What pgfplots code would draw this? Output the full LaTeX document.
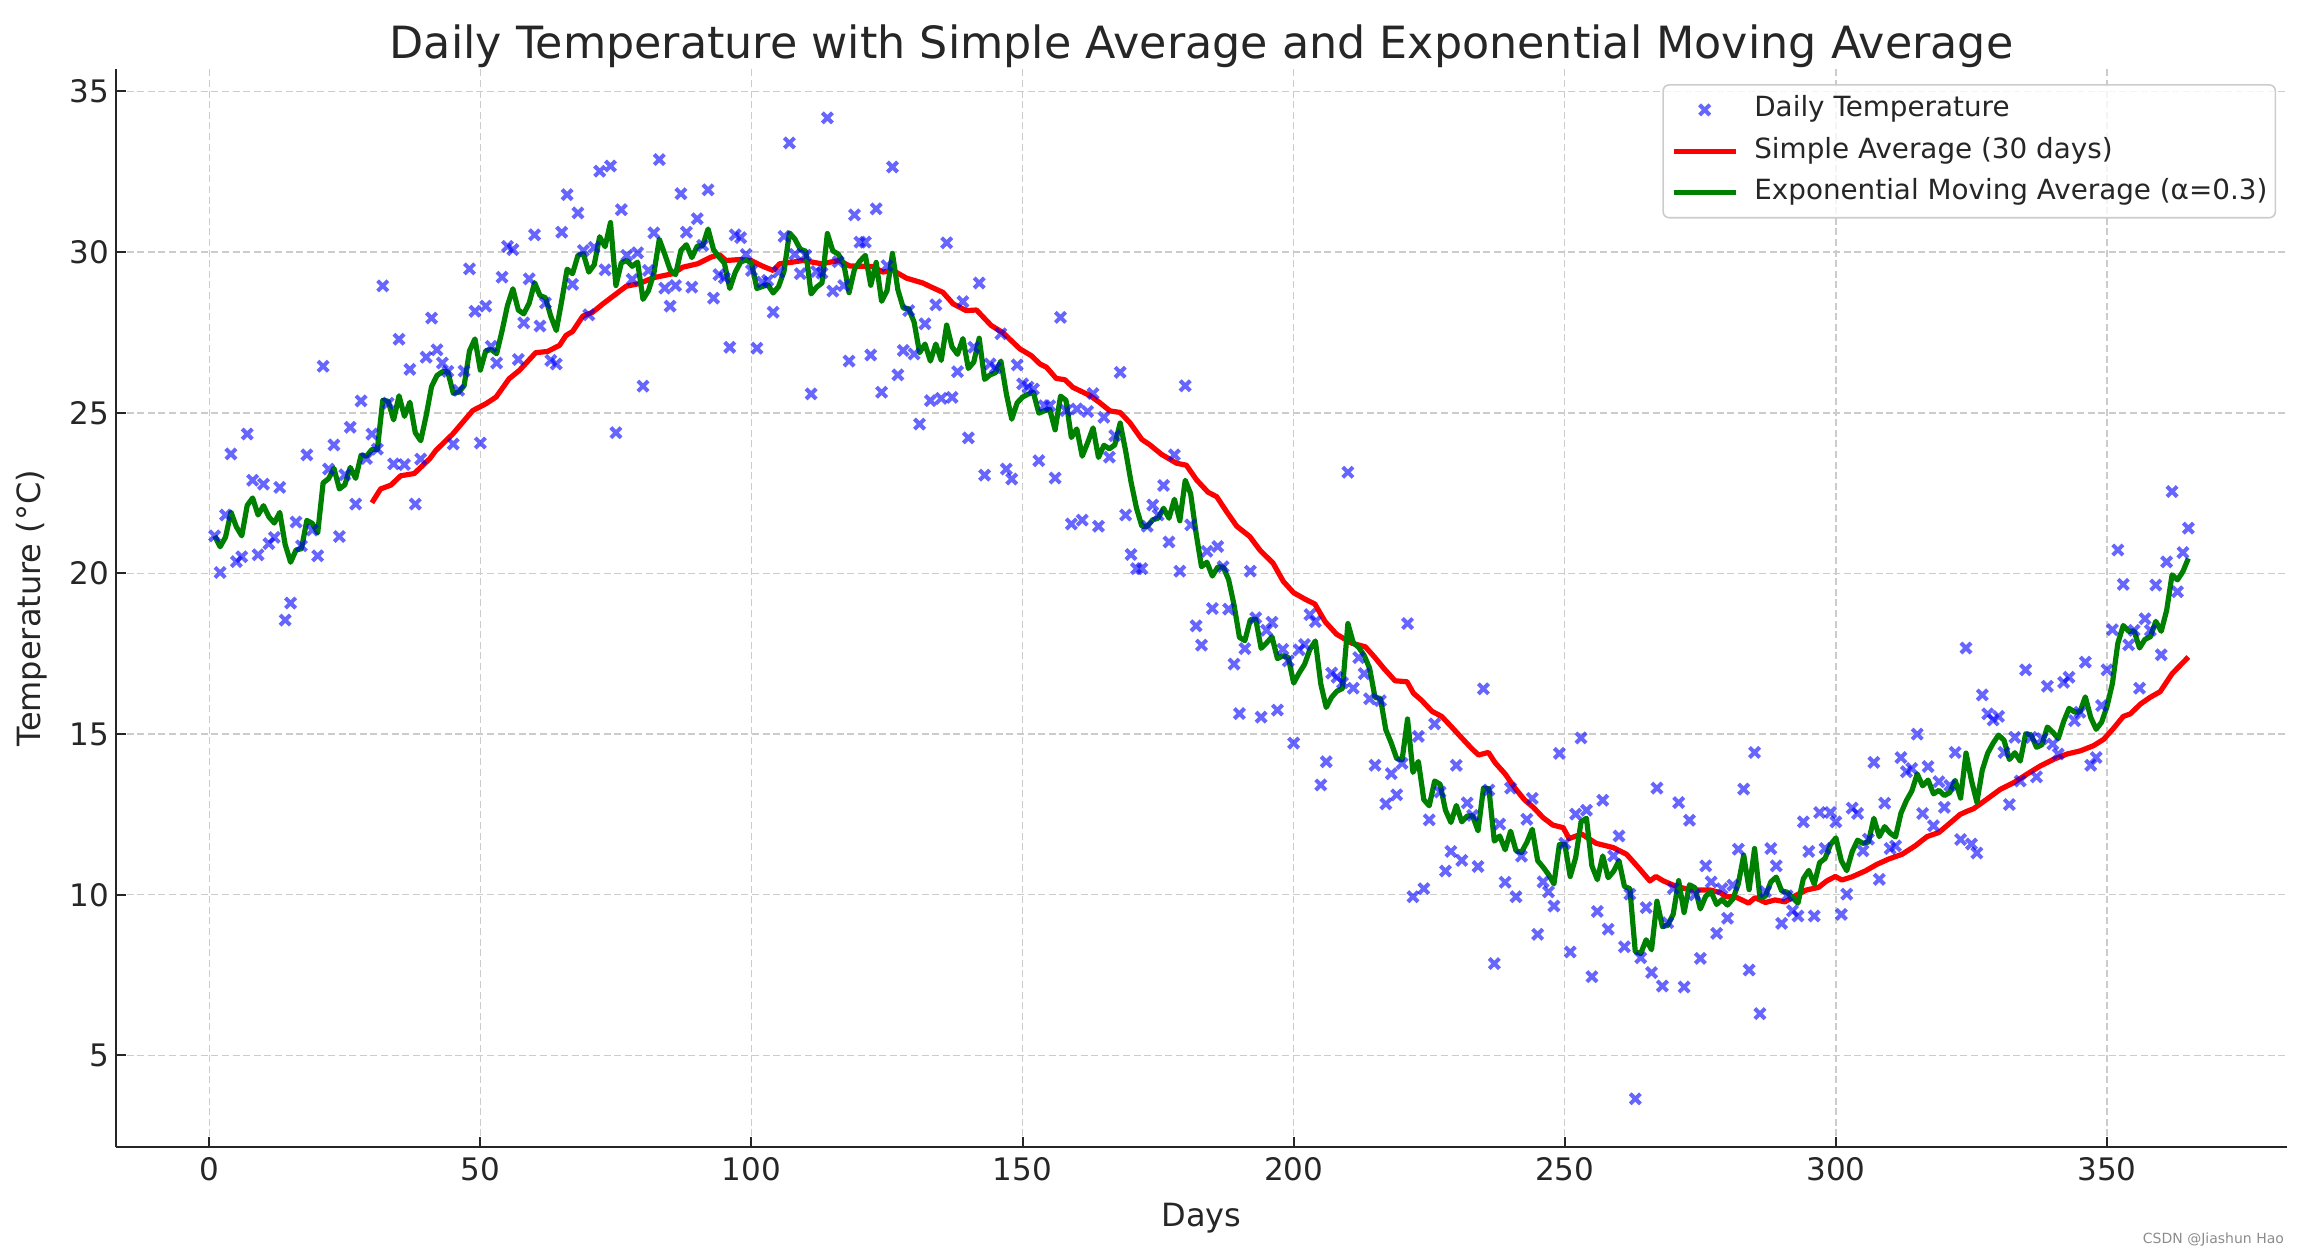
\documentclass[border=0pt]{standalone}
\usepackage{fontspec}
\setmainfont{DejaVu Sans}
\usepackage{pgfplots}
\pgfplotsset{compat=1.18}
\definecolor{ptblue}{RGB}{0,0,255}
\definecolor{emagreen}{RGB}{0,128,0}
\definecolor{gridgray}{RGB}{204,204,204}
\definecolor{txt}{RGB}{38,38,38}
\pgfplotsset{
  linelegend/.style={legend image code/.code={\draw[##1] (0pt,0pt) -- (31pt,0pt);}},
  marklegend/.style={legend image code/.code={\draw[##1] plot coordinates {(15.5pt,0pt)};}},
}
\begin{document}
\begin{tikzpicture}
\path[use as bounding box] (-58pt,-54pt) rectangle (1095pt,573.5pt);
\begin{axis}[
  at={(0,0)}, anchor=south west,
  scale only axis, width=1085.5pt, height=539pt,
  xmin=-17.2, xmax=383.2, ymin=2.15, ymax=35.7,
  axis x line*=bottom, axis y line*=left,
  axis line style={line width=1pt, color=black!85, -},
  xtick={0,50,...,350}, ytick={5,10,...,35},
  tick align=inside, major tick length=5pt,
  tick style={line width=1pt, color=black!85},
  grid=major, grid style={gridgray, line width=0.7pt, dash pattern=on 3.5pt off 1.8pt},
  tick label style={font=\fontsize{15.5}{18}\selectfont, color=txt},
  /pgf/number format/assume math mode=true,
  xticklabel style={yshift=-1.6pt},
  xlabel={Days}, ylabel={Temperature (°C)},
  every axis x label/.style={at={(axis description cs:0.5,-0.0659)}, anchor=center,
    font=\fontsize{16}{19}\selectfont, color=txt},
  every axis y label/.style={at={(axis description cs:-0.0387,0.5)}, rotate=90, anchor=center,
    font=\fontsize{16}{19}\selectfont, color=txt},
  title={Daily Temperature with Simple Average and Exponential Moving Average},
  every axis title/.style={font=\fontsize{22.2}{26}\selectfont, color=txt, at={(axis description cs:0.5,1.0208)}, anchor=center},
  legend cell align=left,
  legend style={
    at={(0.995,0.986)}, anchor=north east,
    draw=black!20, line width=0.8pt, rounded corners=3pt,
    fill=white, fill opacity=0.8, text opacity=1,
    font=\fontsize{13.9}{16}\selectfont, text=txt,
    inner xsep=4pt, inner ysep=6pt,
    row sep=7.7pt,
    nodes={inner sep=0pt, text height=10pt, text depth=3pt},
    /tikz/every odd column/.append style={column sep=8pt},
  },
]
\addplot[ptblue, only marks, mark=x, mark size=3.6pt,
  mark options={solid, line width=2pt, draw opacity=0.6}, marklegend]
coordinates {
(1,21.17) (2,20.03) (3,21.82) (4,23.72) (5,20.37) (6,20.52) (7,24.34) (8,22.90) (9,20.58) (10,22.78)
(11,20.93) (12,21.12) (13,22.68) (14,18.55) (15,19.08) (16,21.60) (17,20.86) (18,23.69) (19,21.35) (20,20.55)
(21,26.45) (22,23.25) (23,24.00) (24,21.15) (25,23.07) (26,24.55) (27,22.16) (28,25.37) (29,23.58) (30,24.34)
(31,23.87) (32,28.95) (33,25.30) (34,23.41) (35,27.29) (36,23.39) (37,26.35) (38,22.16) (39,23.56) (40,26.73)
(41,27.95) (42,26.96) (43,26.55) (44,26.29) (45,24.03) (46,25.70) (47,26.30) (48,29.48) (49,28.16) (50,24.06)
(51,28.32) (52,27.07) (53,26.55) (54,29.22) (55,30.18) (56,30.08) (57,26.66) (58,27.80) (59,29.17) (60,30.54)
(61,27.70) (62,28.42) (63,26.63) (64,26.52) (65,30.62) (66,31.79) (67,29.00) (68,31.22) (69,30.05) (70,28.05)
(71,30.15) (72,32.52) (73,29.45) (74,32.68) (75,24.38) (76,31.32) (77,29.90) (78,29.15) (79,29.98) (80,25.83)
(81,29.43) (82,30.60) (83,32.88) (84,28.88) (85,28.32) (86,28.96) (87,31.82) (88,30.62) (89,28.91) (90,31.04)
(91,30.21) (92,31.94) (93,28.57) (94,29.30) (95,29.20) (96,27.04) (97,30.54) (98,30.45) (99,29.93) (100,29.43)
(101,27.01) (102,29.07) (103,29.12) (104,28.13) (105,29.38) (106,30.49) (107,33.40) (108,29.93) (109,29.33) (110,29.90)
(111,25.59) (112,29.40) (113,29.35) (114,34.18) (115,28.79) (116,29.70) (117,28.96) (118,26.61) (119,31.16) (120,30.31)
(121,30.31) (122,26.80) (123,31.35) (124,25.64) (125,29.58) (126,32.65) (127,26.18) (128,26.94) (129,28.18) (130,26.83)
(131,24.65) (132,27.77) (133,25.38) (134,28.36) (135,25.45) (136,30.29) (137,25.48) (138,26.28) (139,28.46) (140,24.22)
(141,27.04) (142,29.04) (143,23.06) (144,26.52) (145,26.40) (146,27.46) (147,23.25) (148,22.94) (149,26.49) (150,25.90)
(151,25.80) (152,25.74) (153,23.51) (154,25.22) (155,25.22) (156,22.97) (157,27.97) (158,25.07) (159,21.54) (160,25.12)
(161,21.66) (162,25.04) (163,25.60) (164,21.47) (165,24.86) (166,23.62) (167,24.29) (168,26.26) (169,21.82) (170,20.59)
(171,20.15) (172,20.15) (173,21.47) (174,22.13) (175,21.82) (176,22.74) (177,20.98) (178,23.69) (179,20.07) (180,25.84)
(181,21.51) (182,18.37) (183,17.77) (184,20.69) (185,18.91) (186,20.84) (187,20.21) (188,18.89) (189,17.18) (190,15.64)
(191,17.66) (192,20.07) (193,18.62) (194,15.53) (195,18.23) (196,18.48) (197,15.75) (198,17.64) (199,17.28) (200,14.72)
(201,17.62) (202,17.79) (203,18.72) (204,18.50) (205,13.42) (206,14.14) (207,16.90) (208,16.77) (209,16.60) (210,23.15)
(211,16.43) (212,17.38) (213,16.88) (214,16.10) (215,14.03) (216,16.04) (217,12.83) (218,13.77) (219,13.11) (220,14.09)
(221,18.44) (222,9.94) (223,14.93) (224,10.19) (225,12.33) (226,15.32) (227,13.20) (228,10.74) (229,11.35) (230,14.03)
(231,11.07) (232,12.86) (233,12.47) (234,10.88) (235,16.41) (236,13.26) (237,7.86) (238,12.20) (239,10.39) (240,13.32)
(241,9.94) (242,11.20) (243,12.35) (244,13.00) (245,8.77) (246,10.40) (247,10.09) (248,9.65) (249,14.40) (250,11.60)
(251,8.22) (252,12.51) (253,14.88) (254,12.63) (255,7.45) (256,9.48) (257,12.94) (258,8.93) (259,11.21) (260,11.83)
(261,8.38) (262,10.02) (263,3.65) (264,8.04) (265,9.60) (266,7.58) (267,13.32) (268,7.16) (269,9.13) (270,10.20)
(271,12.87) (272,7.13) (273,12.32) (274,10.00) (275,8.02) (276,10.90) (277,10.40) (278,8.80) (279,10.19) (280,9.27)
(281,10.30) (282,11.42) (283,13.29) (284,7.66) (285,14.43) (286,6.30) (287,10.10) (288,11.44) (289,10.90) (290,9.11)
(291,9.97) (292,9.50) (293,9.34) (294,12.27) (295,11.35) (296,9.34) (297,12.56) (298,11.44) (299,12.56) (300,12.27)
(301,9.39) (302,10.02) (303,12.70) (304,12.53) (305,11.37) (306,11.73) (307,14.12) (308,10.48) (309,12.85) (310,11.44)
(311,11.52) (312,14.27) (313,13.83) (314,13.93) (315,15.00) (316,12.53) (317,13.99) (318,12.15) (319,13.52) (320,12.72)
(321,13.40) (322,14.43) (323,11.72) (324,17.68) (325,11.58) (326,11.30) (327,16.22) (328,15.63) (329,15.44) (330,15.55)
(331,14.43) (332,12.81) (333,14.90) (334,13.54) (335,17.00) (336,14.90) (337,13.67) (338,14.86) (339,16.49) (340,14.69)
(341,14.38) (342,16.61) (343,16.77) (344,15.42) (345,15.68) (346,17.24) (347,14.03) (348,14.27) (349,15.89) (350,17.00)
(351,18.25) (352,20.73) (353,19.66) (354,17.78) (355,18.23) (356,16.43) (357,18.59) (358,18.23) (359,19.64) (360,17.47)
(361,20.36) (362,22.55) (363,19.43) (364,20.65) (365,21.41)
};
\addlegendentry{Daily Temperature}
\addplot[red, line width=2.6pt, no marks, line join=round, linelegend]
coordinates {
(30,22.2) (31.6,22.63) (33.5,22.75) (35.3,23.04) (37.8,23.11) (40.6,23.56) (41.8,23.83) (44.9,24.34) (48.6,25.07) (51,25.28)
(52.9,25.49) (55.3,26.06) (57.2,26.32) (60.2,26.87) (62.4,26.91) (64.6,27.1) (65.8,27.41) (67,27.53) (68.9,28.01) (70.7,28.13)
(72.6,28.39) (74.4,28.62) (76.9,28.94) (79.3,29.02) (81.8,29.2) (85.5,29.33) (87.3,29.53) (90.1,29.64) (92.6,29.85) (94.1,29.92)
(95.3,29.74) (97.8,29.77) (99.9,29.74) (102.1,29.56) (104,29.43) (105.2,29.64) (107.6,29.69) (109.5,29.74) (112.9,29.64) (116.2,29.74)
(118.1,29.57) (122.4,29.55) (124.2,29.38) (126.1,29.43) (128.6,29.19) (131.6,29.04) (133.2,28.91) (135.3,28.75) (137.2,28.39) (139.6,28.18)
(141.5,28.2) (144.2,27.72) (146.4,27.49) (149.5,26.99) (151.6,26.78) (153.2,26.52) (154.4,26.42) (156.2,26.07) (157.8,26.03) (159.3,25.79)
(162.4,25.54) (164.2,25.32) (166.1,25.06) (168,25.01) (169.8,24.69) (172,24.17) (173.5,24.0) (175.6,23.71) (178.4,23.43) (180.2,23.37)
(182.1,22.91) (184.2,22.53) (185.8,22.39) (187.6,21.93) (189.5,21.47) (191.9,21.15) (193.8,20.72) (196.2,20.32) (198.1,19.75) (200,19.4)
(202.1,19.2) (203.9,19.05) (205.8,18.5) (207.9,18.11) (210.7,17.83) (213.2,17.72) (215,17.38) (216.6,17.05) (218.7,16.66) (220.9,16.63)
(222.1,16.27) (223.6,16.05) (225.5,15.71) (227.3,15.55) (229.2,15.21) (231,14.88) (232.9,14.54) (234.1,14.35) (235.9,14.43) (237.2,14.1)
(239,13.76) (240.9,13.3) (242.6,12.95) (244.2,12.72) (246,12.4) (247.8,12.17) (249.7,12.09) (250.8,11.75) (253.1,11.89) (255.8,11.6)
(258.9,11.47) (261.4,11.26) (263.2,10.92) (265.7,10.43) (266.8,10.57) (268.2,10.43) (270.3,10.28) (273.1,10.15) (276.8,10.15) (278.6,10.07)
(279.8,9.94) (281.4,9.94) (283.9,9.74) (285.1,9.91) (287,9.76) (288.8,9.84) (290.6,9.78) (292.5,9.97) (294.6,10.15) (296.8,10.23)
(298.3,10.43) (299.9,10.57) (301.1,10.46) (303,10.56) (305.4,10.74) (307.6,10.95) (309.7,11.11) (312.2,11.26) (314.6,11.52) (316.8,11.81)
(319,11.94) (321.1,12.24) (322.9,12.5) (324.2,12.6) (325.4,12.68) (327.8,12.97) (330.3,13.28) (332.8,13.49) (335.2,13.75) (337.7,14.01)
(340.2,14.22) (342.6,14.38) (345.1,14.48) (347.5,14.64) (349.4,14.84) (351.2,15.18) (353,15.55) (354.3,15.63) (356.2,15.94) (358,16.15)
(359.8,16.32) (362,16.88) (363.5,17.14) (365,17.4)
};
\addlegendentry{Simple Average (30 days)}
\addplot[emagreen, line width=2.6pt, no marks, line join=round, linelegend]
coordinates {
(1,21.17) (2,20.83) (3,21.13) (4,21.91) (5,21.45) (6,21.17) (7,22.12) (8,22.35) (9,21.82) (10,22.11)
(11,21.76) (12,21.57) (13,21.90) (14,20.90) (15,20.35) (16,20.73) (17,20.77) (18,21.65) (19,21.56) (20,21.26)
(21,22.82) (22,22.95) (23,23.27) (24,22.63) (25,22.76) (26,23.30) (27,22.96) (28,23.68) (29,23.65) (30,23.86)
(31,23.86) (32,25.39) (33,25.36) (34,24.78) (35,25.53) (36,24.89) (37,25.33) (38,24.38) (39,24.13) (40,24.91)
(41,25.82) (42,26.16) (43,26.28) (44,26.28) (45,25.61) (46,25.64) (47,25.84) (48,26.93) (49,27.30) (50,26.33)
(51,26.93) (52,26.97) (53,26.84) (54,27.55) (55,28.34) (56,28.86) (57,28.20) (58,28.08) (59,28.41) (60,29.05)
(61,28.65) (62,28.58) (63,28.00) (64,27.56) (65,28.48) (66,29.47) (67,29.33) (68,29.90) (69,29.95) (70,29.38)
(71,29.61) (72,30.48) (73,30.17) (74,30.92) (75,28.96) (76,29.67) (77,29.74) (78,29.56) (79,29.69) (80,28.53)
(81,28.80) (82,29.34) (83,30.40) (84,29.94) (85,29.45) (86,29.30) (87,30.06) (88,30.23) (89,29.83) (90,30.19)
(91,30.20) (92,30.72) (93,30.08) (94,29.85) (95,29.66) (96,28.87) (97,29.37) (98,29.69) (99,29.76) (100,29.66)
(101,28.87) (102,28.93) (103,28.99) (104,28.73) (105,28.93) (106,29.40) (107,30.60) (108,30.41) (109,30.09) (110,30.03)
(111,28.70) (112,28.91) (113,29.04) (114,30.58) (115,30.04) (116,29.94) (117,29.65) (118,28.74) (119,29.47) (120,29.72)
(121,29.90) (122,28.97) (123,29.68) (124,28.47) (125,28.80) (126,29.96) (127,28.83) (128,28.26) (129,28.24) (130,27.82)
(131,26.87) (132,27.14) (133,26.61) (134,27.14) (135,26.63) (136,27.73) (137,27.05) (138,26.82) (139,27.31) (140,26.38)
(141,26.58) (142,27.32) (143,26.04) (144,26.18) (145,26.25) (146,26.61) (147,25.60) (148,24.80) (149,25.31) (150,25.49)
(151,25.58) (152,25.63) (153,24.99) (154,25.06) (155,25.11) (156,24.47) (157,25.52) (158,25.39) (159,24.23) (160,24.50)
(161,23.65) (162,24.07) (163,24.53) (164,23.61) (165,23.99) (166,23.88) (167,24.00) (168,24.68) (169,23.82) (170,22.85)
(171,22.04) (172,21.47) (173,21.47) (174,21.67) (175,21.72) (176,22.03) (177,21.72) (178,22.31) (179,21.64) (180,22.90)
(181,22.48) (182,21.25) (183,20.21) (184,20.35) (185,19.92) (186,20.20) (187,20.20) (188,19.81) (189,19.02) (190,18.01)
(191,17.91) (192,18.56) (193,18.58) (194,17.67) (195,17.84) (196,18.03) (197,17.35) (198,17.44) (199,17.39) (200,16.59)
(201,16.90) (202,17.17) (203,17.64) (204,17.90) (205,16.56) (206,15.83) (207,16.15) (208,16.34) (209,16.42) (210,18.44)
(211,17.84) (212,17.70) (213,17.45) (214,17.05) (215,16.14) (216,16.11) (217,15.13) (218,14.72) (219,14.24) (220,14.20)
(221,15.47) (222,13.81) (223,14.15) (224,12.96) (225,12.77) (226,13.54) (227,13.44) (228,12.63) (229,12.25) (230,12.78)
(231,12.27) (232,12.45) (233,12.46) (234,11.99) (235,13.32) (236,13.30) (237,11.67) (238,11.83) (239,11.40) (240,11.98)
(241,11.37) (242,11.32) (243,11.63) (244,12.04) (245,11.06) (246,10.86) (247,10.63) (248,10.34) (249,11.56) (250,11.57)
(251,10.57) (252,11.15) (253,12.27) (254,12.38) (255,10.90) (256,10.47) (257,11.21) (258,10.53) (259,10.73) (260,11.06)
(261,10.26) (262,10.19) (263,8.23) (264,8.17) (265,8.60) (266,8.29) (267,9.80) (268,9.01) (269,9.05) (270,9.40)
(271,10.44) (272,9.45) (273,10.31) (274,10.22) (275,9.56) (276,9.96) (277,10.09) (278,9.70) (279,9.85) (280,9.68)
(281,9.87) (282,10.34) (283,11.23) (284,10.16) (285,11.44) (286,9.90) (287,9.96) (288,10.40) (289,10.55) (290,10.12)
(291,10.08) (292,9.91) (293,9.74) (294,10.50) (295,10.76) (296,10.33) (297,11.00) (298,11.13) (299,11.56) (300,11.77)
(301,11.06) (302,10.75) (303,11.34) (304,11.70) (305,11.60) (306,11.64) (307,12.38) (308,11.81) (309,12.12) (310,11.92)
(311,11.80) (312,12.54) (313,12.93) (314,13.23) (315,13.76) (316,13.39) (317,13.57) (318,13.14) (319,13.25) (320,13.09)
(321,13.18) (322,13.56) (323,13.01) (324,14.41) (325,13.56) (326,12.88) (327,13.88) (328,14.41) (329,14.72) (330,14.97)
(331,14.81) (332,14.21) (333,14.42) (334,14.16) (335,15.01) (336,14.98) (337,14.59) (338,14.67) (339,15.22) (340,15.06)
(341,14.86) (342,15.39) (343,15.80) (344,15.69) (345,15.69) (346,16.16) (347,15.52) (348,15.15) (349,15.37) (350,15.86)
(351,16.58) (352,17.83) (353,18.38) (354,18.20) (355,18.21) (356,17.68) (357,17.95) (358,18.03) (359,18.51) (360,18.20)
(361,18.85) (362,19.96) (363,19.80) (364,20.06) (365,20.47)
};
\addlegendentry{Exponential Moving Average (α=0.3)}
\end{axis}
\node[anchor=east, font=\fontsize{7}{8}\selectfont, text=black!45] at (1087.5pt,-46.5pt) {CSDN @Jiashun Hao};
\end{tikzpicture}
\end{document}
